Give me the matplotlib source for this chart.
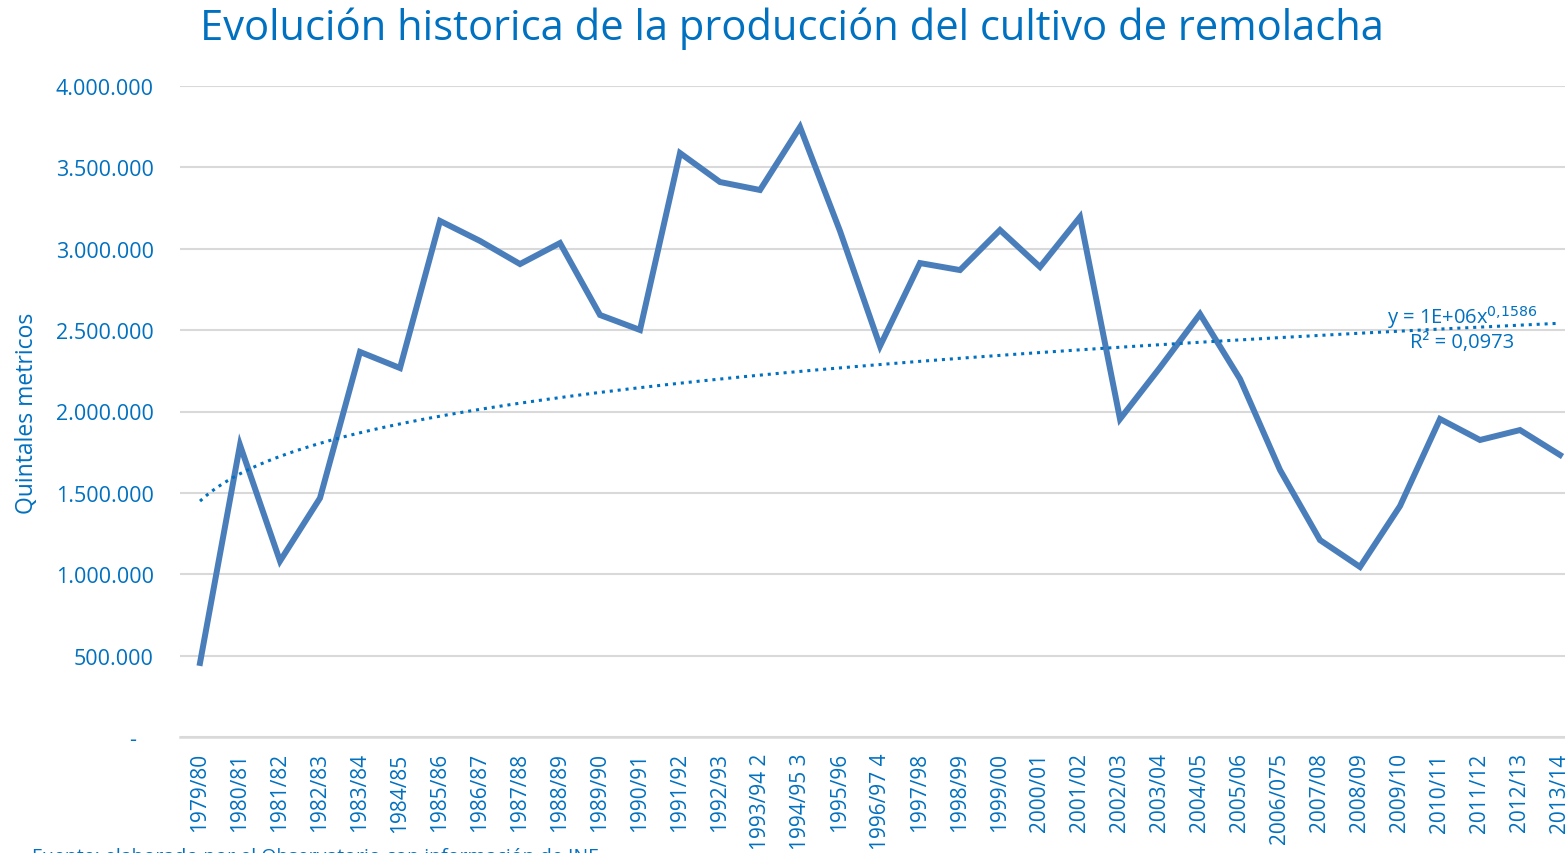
import numpy as np
import matplotlib
matplotlib.use("Agg")
import matplotlib.pyplot as plt
from matplotlib.ticker import FuncFormatter

campaigns = ["1979/80", "1980/81", "1981/82", "1982/83", "1983/84", "1984/85", "1985/86",
             "1986/87", "1987/88", "1988/89", "1989/90", "1990/91", "1991/92", "1992/93",
             "1993/94 2", "1994/95 3", "1995/96", "1996/97 4", "1997/98", "1998/99", "1999/00",
             "2000/01", "2001/02", "2002/03", "2003/04", "2004/05", "2005/06", "2006/075",
             "2007/08", "2008/09", "2009/10", "2010/11", "2011/12", "2012/13", "2013/14"]
production = [455000, 1794000, 1081000, 1468000, 2366000, 2267000, 3171000,
              3048000, 2906000, 3035000, 2593000, 2501000, 3588000, 3410000,
              3361000, 3748000, 3109000, 2402000, 2912000, 2869000, 3115000,
              2888000, 3195000, 1954000, 2270000, 2599000, 2200000, 1641000,
              1210000, 1045000, 1419000, 1954000, 1825000, 1886000, 1733000]
y_ticks = [0, 500000, 1000000, 1500000, 2000000, 2500000, 3000000, 3500000, 4000000]

blue_text = "#0070C0"
line_col = "#4A7EBB"
FONT = "Open Sans"

fig = plt.figure(figsize=(15.65, 8.54), dpi=100)
W, H = 1565, 854
ax = fig.add_axes([180 / W, (H - 738) / H, (1580 - 180) / W, (738 - 87) / H])

x = np.arange(len(campaigns))
ax.plot(x, production, color=line_col, lw=4.3, solid_joinstyle="miter", zorder=3)

# power trendline (log-log fit, like Excel)
xs = x + 1
b, loga = np.polyfit(np.log(xs), np.log(production), 1)
xt = np.linspace(1, len(campaigns), 200)
ax.plot(xt - 1, np.exp(loga) * xt ** b, color=blue_text, lw=2.2, ls=(0, (1, 1.6)), zorder=4)

ax.set_xlim(-0.5, len(campaigns) - 0.5)
ax.set_ylim(0, 4000000)
ax.set_yticks(y_ticks)

def fmt(v, pos):
    if v == 0:
        return "-   "
    return f"{int(v):,}".replace(",", ".")

ax.yaxis.set_major_formatter(FuncFormatter(fmt))
ax.set_xticks(x)
ax.set_xticklabels(campaigns, rotation=90, fontsize=15, color=blue_text, family=FONT)
for lab in ax.get_yticklabels():
    lab.set_fontsize(15.5)
    lab.set_color(blue_text)
    lab.set_family(FONT)
ax.tick_params(axis="both", length=0)
ax.tick_params(axis="y", pad=19)
ax.tick_params(axis="x", pad=11)
ax.grid(axis="y", color="#D9D9D9", lw=1.5)
ax.set_axisbelow(True)
for s in ["top", "right", "left"]:
    ax.spines[s].set_visible(False)
ax.spines["bottom"].set_color("#D9D9D9")
ax.spines["bottom"].set_linewidth(1.8)

fig.text(27 / W, 1 - 413 / H, "Quintales metricos", rotation=90, ha="center", va="center",
         fontsize=16.5, color=blue_text, family=FONT)
fig.text(792 / W, 1 - 29 / H, "Evolución historica de la producción del cultivo de remolacha",
         ha="center", va="center", fontsize=30, color=blue_text, family=FONT)

ax.text(31.55, 2500000, "y = 1E+06x$^{0{,}1586}$", ha="center", va="bottom",
        fontsize=14.5, color=blue_text, family=FONT)
ax.text(31.55, 2490000, "R² = 0,0973", ha="center", va="top",
        fontsize=14.5, color=blue_text, family=FONT)

fig.text(32 / W, 1 - 866 / H, "Fuente: elaborado por el Observatorio con información de INE",
         ha="left", va="bottom", fontsize=14, color=blue_text, family=FONT)

fig.savefig("out.png", dpi=100)
